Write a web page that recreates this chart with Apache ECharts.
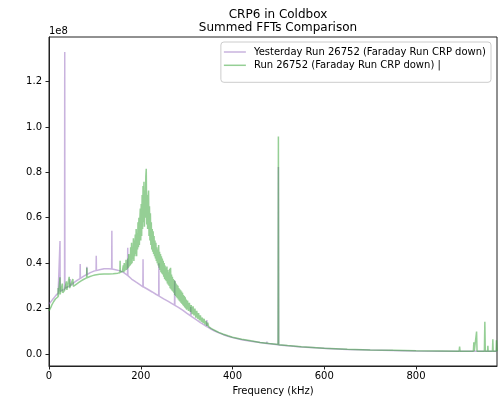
<!DOCTYPE html>
<html>
<head>
<meta charset="utf-8">
<script src="https://cdn.jsdelivr.net/npm/echarts@6/dist/echarts.min.js"></script>
<style>html,body{margin:0;padding:0;background:#fff}#c{width:500px;height:401px}</style>
</head>
<body>
<div id="c"></div>
<script>
// Values are in units of 1e8, frequency in kHz
const titleText = 'CRP6 in Coldbox\nSummed FFTs Comparison';
const seriesNames = ['Yesterday Run 26752 (Faraday Run CRP down)', 'Run 26752 (Faraday Run CRP down) |'];
const xTicks = [0, 200, 400, 600, 800];
const yTicks = [0, 0.2, 0.4, 0.6, 0.8, 1.0, 1.2];

const yesterday = [
[0,0.22],[3,0.226],[6,0.235],[10,0.245],[15,0.258],[20,0.268],
[23.6,0.274],[24,0.497],[24.4,0.276],[28,0.282],
[33.9,0.286],[34.3,1.33],[34.7,0.288],[40,0.295],
[45.7,0.30],[46,0.33],[46.3,0.30],[55,0.315],[62,0.325],
[67.6,0.332],[68,0.396],[68.4,0.333],[75,0.342],
[82.1,0.35],[82.5,0.384],[82.9,0.35],[90,0.358],[98,0.365],
[102.6,0.367],[103,0.432],[103.4,0.367],[110,0.371],[120,0.375],[130,0.375],
[136.6,0.374],[137,0.543],[137.4,0.374],[145,0.371],[155,0.366],[163,0.358],
[171.2,0.346],[171.6,0.468],[172,0.345],[180,0.33],[190,0.316],[198,0.305],
[204.6,0.296],[205,0.417],[205.4,0.296],[215,0.285],[225,0.273],[233,0.263],
[239.1,0.256],[239.5,0.40],[239.9,0.255],[250,0.243],[260,0.232],[268,0.222],
[273.6,0.215],[274,0.324],[274.4,0.214],[282,0.205],[292,0.192],[300,0.18],
[308.6,0.168],[309,0.207],[309.4,0.167],[320,0.152],[330,0.138],[338,0.128],
[343.6,0.121],[344,0.15],[344.4,0.12],[352,0.111],[360,0.102],[370,0.093],
[380,0.085],[390,0.078],[400,0.072],[420,0.063],[440,0.056],[460,0.05],
[474.6,0.046],[475,0.055],[475.4,0.046],[490,0.043],
[499.4,0.041],[500,0.823],[500.6,0.04],[520,0.036],[550,0.031],[580,0.027],
[604.6,0.0245],[605,0.03],[605.4,0.0245],[650,0.02],[700,0.017],[750,0.015],
[769.6,0.0145],[770,0.023],[770.4,0.0145],[800,0.013],[850,0.0125],[900,0.012],[976.5,0.012]
];

const today = [
[0,0.19],[2,0.196],[4,0.205],[6,0.215],[8,0.222],[10,0.23],[12,0.236],[14,0.242],[16,0.247],[18,0.25],
[19.7,0.252],[20,0.29],[20.3,0.253],[22,0.258],[23.7,0.26],[24,0.338],[24.3,0.262],
[26,0.266],[28,0.268],[29,0.31],[30,0.27],[32,0.275],[34,0.28],[36,0.278],
[38,0.32],[39,0.282],[41,0.285],[43,0.29],[44,0.34],[45,0.29],[47,0.292],[49,0.296],
[52,0.33],[53,0.298],[56,0.302],[60,0.308],[65,0.315],[70,0.322],[75,0.328],[79,0.332],
[82.1,0.335],[82.5,0.38],[82.9,0.336],[88,0.34],[95,0.345],[100,0.348],[110,0.351],
[120,0.352],[130,0.352],[140,0.353],[150,0.356],[154.6,0.358],[155,0.41],[155.4,0.36],[160,0.364],
[162,0.39],[163,0.36],[164,0.40],[165,0.365],[166,0.38],[167,0.37],[168,0.415],[169,0.37],
[170,0.40],[171,0.375],[172,0.42],[173,0.38],[174,0.44],[175,0.385],[176,0.43],[177,0.39],
[178,0.47],[179,0.395],[180,0.49],[181,0.40],[182,0.46],[183,0.42],[184,0.51],[185,0.41],
[186,0.50],[187,0.43],[188,0.526],[189,0.44],[190,0.55],[191,0.43],[192,0.53],[193,0.46],
[194,0.58],[195,0.47],[196,0.60],[197,0.48],[198,0.59],[199,0.64],[200,0.50],[201,0.66],
[202,0.52],[203,0.70],[204,0.55],[205,0.74],[206,0.58],[207,0.758],[208,0.56],[209,0.72],
[210,0.60],[211,0.78],[212,0.816],[213,0.57],[214,0.70],[215,0.55],[216,0.68],[217,0.72],
[218,0.52],[219,0.65],[220,0.50],[221,0.62],[222,0.48],[223,0.58],[224,0.46],[225,0.55],
[226,0.45],[227,0.54],[228,0.44],[229,0.52],[230,0.43],[231,0.50],[232,0.42],[233,0.49],
[234,0.41],[235,0.47],[236,0.40],[237,0.46],[238,0.39],[239,0.48],[240,0.38],[241,0.45],
[242,0.37],[243,0.44],[244,0.36],[245,0.43],[246,0.355],[247,0.42],[248,0.35],[249,0.41],
[250,0.34],[251,0.40],[252,0.33],[253,0.39],[254,0.325],[255,0.38],[256,0.32],[257,0.385],
[258,0.31],[259,0.37],[260,0.305],[261,0.36],[262,0.30],[263,0.375],[264,0.29],[265,0.38],
[266,0.285],[267,0.35],[268,0.28],[269,0.34],[270,0.275],[271,0.33],[272,0.27],[273,0.325],
[274,0.26],[275,0.32],[276,0.255],[277,0.31],[278,0.25],[279,0.305],[280,0.245],[281,0.30],
[282,0.24],[283,0.29],[284,0.235],[285,0.285],[286,0.23],[287,0.28],[288,0.225],[289,0.275],
[290,0.22],[291,0.27],[292,0.215],[293,0.26],[294,0.21],[295,0.255],[296,0.205],[297,0.25],
[298,0.20],[299,0.24],[300,0.195],[302,0.235],[304,0.19],[306,0.225],[308,0.185],[310,0.215],
[312,0.175],[314,0.21],[316,0.17],[318,0.20],[320,0.16],[322,0.19],[324,0.155],[326,0.18],
[328,0.148],[330,0.17],[332,0.142],[334,0.16],[336,0.136],[338,0.155],[340,0.13],[342,0.145],
[344,0.124],[346,0.138],[348,0.12],[350,0.125],[354,0.112],[358,0.106],
[365,0.10],[370,0.095],[380,0.087],[390,0.08],[400,0.074],[420,0.065],[440,0.058],[460,0.051],
[480,0.046],[495,0.043],[499.4,0.042],[500,0.958],[500.6,0.041],[520,0.037],[550,0.032],
[600,0.025],[650,0.021],[700,0.018],[750,0.016],[800,0.014],[850,0.013],
[894,0.012],[895,0.033],[896,0.012],[925,0.012],[926,0.051],[927,0.012],
[931,0.012],[932,0.099],[933,0.012],[949,0.012],[950,0.142],[951,0.012],
[956,0.012],[956.6,0.036],[957.2,0.012],[966.6,0.012],[967.4,0.065],[968.2,0.012],
[974.5,0.012],[975.3,0.06],[976.5,0.012]
];

const FONT = 'DejaVu Sans';
const chart = echarts.init(document.getElementById('c'), null, {renderer: 'canvas'});
chart.setOption({
  animation: false,
  backgroundColor: '#fff',
  textStyle: {fontFamily: FONT},
  title: {
    text: titleText,
    left: 273, top: 3, textAlign: 'center',
    textStyle: {fontFamily: FONT, fontSize: 12, fontWeight: 'normal', color: '#000', lineHeight: 13.3}
  },
  grid: {left: 49, right: 3, top: 37, bottom: 31, show: true, borderColor: '#222', borderWidth: 1, backgroundColor: 'transparent'},
  legend: {
    orient: 'vertical', right: 9, top: 42,
    padding: [4, 5, 11, 3],
    itemGap: 1.3, itemWidth: 22, itemHeight: 1.5, icon: 'rect',
    backgroundColor: 'rgba(255,255,255,0.8)', borderColor: '#ccc', borderWidth: 1, borderRadius: 3,
    textStyle: {fontFamily: FONT, fontSize: 10, color: '#000', lineHeight: 12, padding: [0, 0, 0, 3]},
    data: seriesNames
  },
  xAxis: {
    type: 'value', min: 0, max: 976.5,
    name: 'Frequency (kHz)', nameLocation: 'middle', nameGap: 20,
    nameTextStyle: {fontFamily: FONT, fontSize: 10, color: '#000'},
    axisLine: {show: true, onZero: false, lineStyle: {color: '#222', width: 1}},
    axisTick: {show: true, inside: false, length: 3.5, lineStyle: {color: '#222'}, customValues: xTicks},
    axisLabel: {fontFamily: FONT, fontSize: 10, color: '#000', margin: 5, customValues: xTicks, formatter: v => String(v)},
    splitLine: {show: false}
  },
  yAxis: {
    type: 'value', min: -0.053, max: 1.396,
    name: '1e8', nameLocation: 'end', nameGap: 1,
    nameTextStyle: {fontFamily: FONT, fontSize: 10, color: '#000', align: 'left', verticalAlign: 'bottom'},
    axisLine: {show: true, onZero: false, lineStyle: {color: '#222', width: 1}},
    axisTick: {show: true, inside: false, length: 3.5, lineStyle: {color: '#222'}, customValues: yTicks},
    axisLabel: {fontFamily: FONT, fontSize: 10, color: '#000', margin: 7, customValues: yTicks, formatter: v => v.toFixed(1)},
    splitLine: {show: false}
  },
  series: [
    {name: seriesNames[0], type: 'line', data: yesterday, showSymbol: false, symbol: 'none', sampling: null,
     color: 'rgba(148,103,189,0.5)', lineStyle: {width: 1.5, color: 'rgba(148,103,189,0.5)'}, clip: true},
    {name: seriesNames[1], type: 'line', data: today, showSymbol: false, symbol: 'none', sampling: null,
     color: 'rgba(44,160,44,0.5)', lineStyle: {width: 1.5, color: 'rgba(44,160,44,0.5)'}, clip: true}
  ]
});
</script>
</body>
</html>
